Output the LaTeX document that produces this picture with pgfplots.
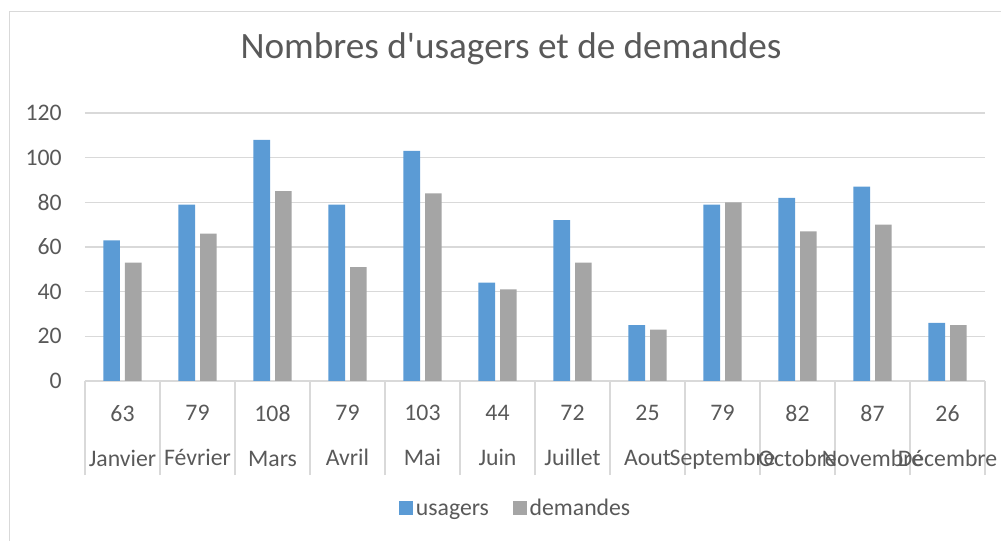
\documentclass[border=0pt]{standalone}
\usepackage{pgfplots}
\pgfplotsset{compat=1.18}
\usepackage{fontspec}
\setmainfont{Carlito}
\definecolor{usagers}{HTML}{5B9BD5}
\definecolor{demandes}{HTML}{A5A5A5}
\definecolor{gridgray}{HTML}{D9D9D9}
\definecolor{txt}{HTML}{595959}

\begin{document}
\begin{tikzpicture}
\path[use as bounding box] (0,0) rectangle (750.75pt,405.75pt);
\draw[gridgray, line width=0.75pt] (7.1pt,0pt) -- (7.1pt,396.75pt) -- (750.75pt,396.75pt);
\begin{axis}[
  at={(63.75pt,120pt)}, anchor=south west,
  scale only axis, width=675pt, height=201pt,
  xmin=-0.5, xmax=11.5, ymin=0, ymax=120,
  ytick={0,20,...,120},
  /pgf/number format/assume math mode=true,
  ymajorgrids, grid style={gridgray, line width=1pt},
  axis x line*=bottom, axis y line*=left,
  axis line style={-},
  y axis line style={draw=none},
  x axis line style={draw=gridgray, line width=1pt},
  xtick={0,...,11},
  xticklabels={{63\\Janvier},{79\\Février},{108\\Mars},{79\\Avril},{103\\Mai},{44\\Juin},
               {72\\Juillet},{25\\Aout},{79\\Septembre},{82\\Octobre},{87\\Novembre},{26\\Décembre}},
  major tick length=0pt,
  minor xtick={-0.5,0.5,...,11.5},
  minor tick length=70.5pt, tick align=outside,
  minor tick style={gridgray, line width=1pt},
  ytick style={draw=none},
  ybar, bar width=12.4pt, ybar=3.75pt,
  tick label style={font=\fontsize{17.8}{33.75}\selectfont, text=txt},
  yticklabel style={anchor=east, inner sep=0pt, xshift=-17.25pt},
  xticklabel style={align=center, anchor=north, inner sep=0pt, yshift=-18pt},
  title={Nombres d\textquotesingle usagers et de demandes},
  title style={font=\fontsize{27.9}{33}\selectfont, text=txt, at={(0.4733,1.209)}, anchor=center},
  legend style={at={(0.479,-0.481)}, anchor=center, draw=none, legend columns=-1,
                font=\fontsize{17.8}{21}\selectfont, text=txt, inner sep=0pt,
                nodes={inner sep=2pt, text height=12pt, text depth=4pt},
                /tikz/every even column/.append style={column sep=16pt}},
  legend image code/.code={\fill[#1] (0pt,-4pt) rectangle (10.5pt,6.5pt);},
]
\addplot[fill=usagers, draw=none] coordinates {
  (0,63) (1,79) (2,108) (3,79) (4,103) (5,44) (6,72) (7,25) (8,79) (9,82) (10,87) (11,26)
};
\addplot[fill=demandes, draw=none] coordinates {
  (0,53) (1,66) (2,85) (3,51) (4,84) (5,41) (6,53) (7,23) (8,80) (9,67) (10,70) (11,25)
};
\legend{usagers, demandes}
\end{axis}
\end{tikzpicture}
\end{document}
